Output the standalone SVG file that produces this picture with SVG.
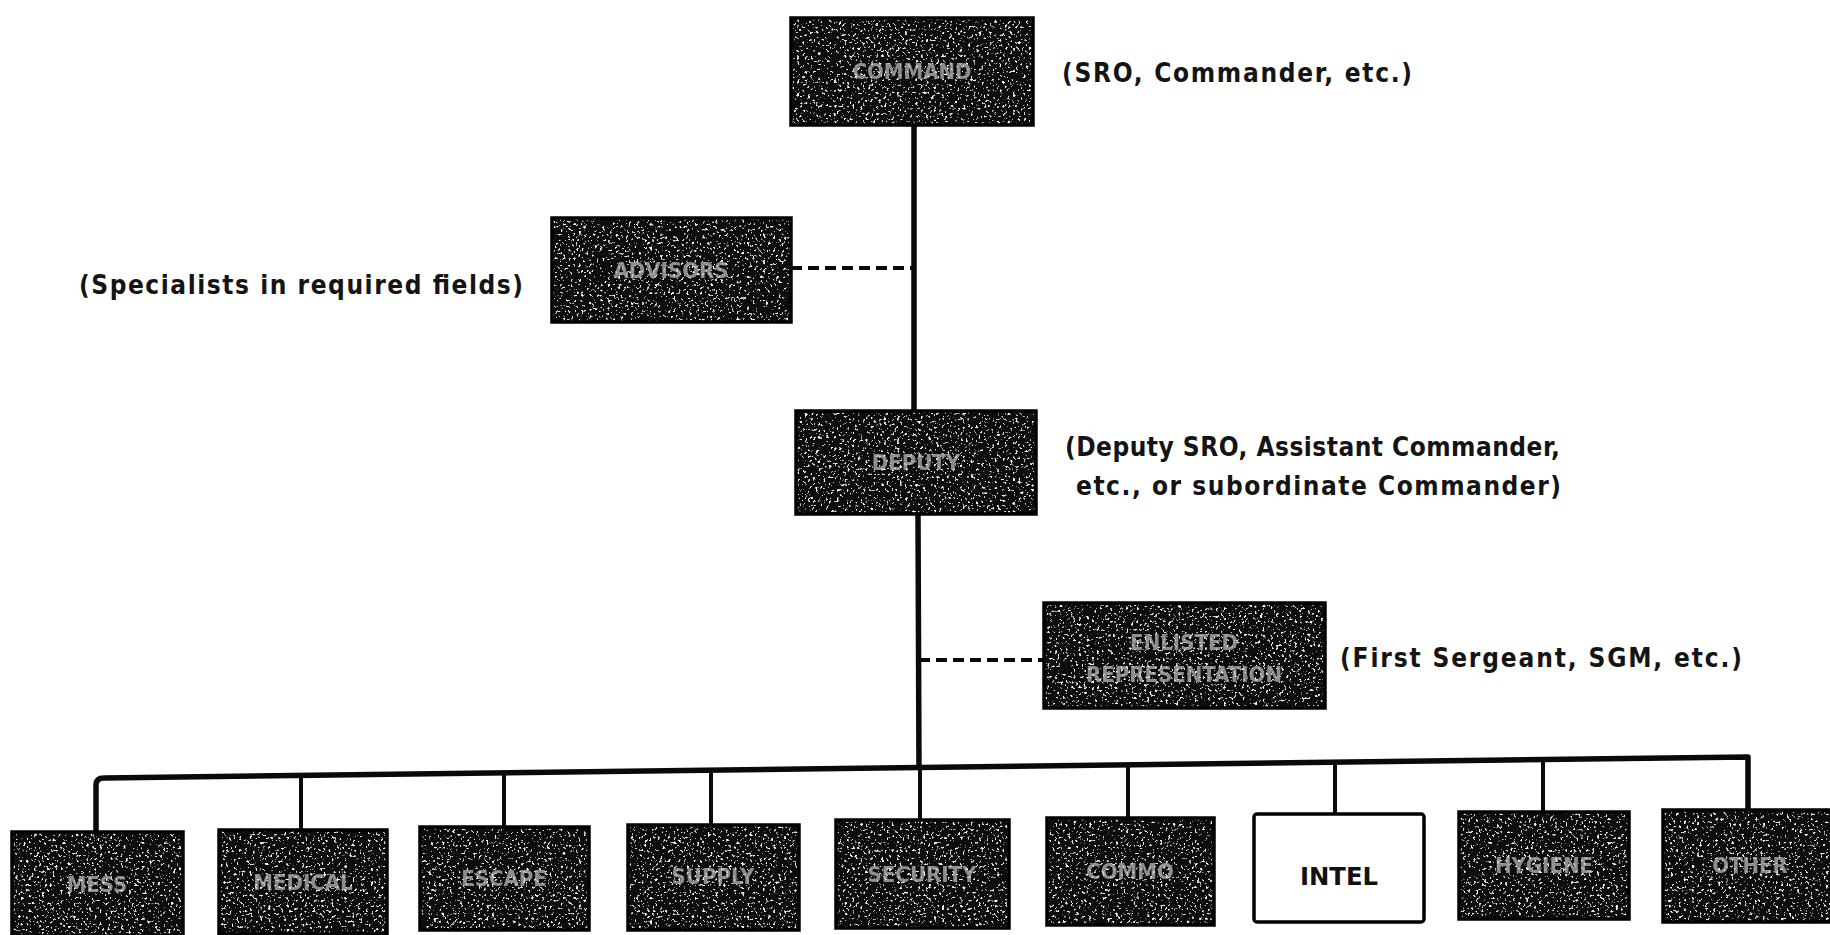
<svg xmlns="http://www.w3.org/2000/svg" width="1830" height="935" viewBox="0 0 1830 935">
<style>
.bg{fill:#ffffff}
.dark{fill:#0b0b0b}
.frame{fill:none;stroke:#000;stroke-width:3.5}
.lbl{font-family:"DejaVu Sans Condensed","DejaVu Sans",sans-serif;font-weight:bold;font-size:22px;fill:#c4c4c4;text-anchor:middle;opacity:.7}
.lblw{font-family:"DejaVu Sans Condensed","DejaVu Sans",sans-serif;font-weight:bold;font-size:25px;fill:#111;text-anchor:middle}
.note{font-family:"DejaVu Sans Condensed","DejaVu Sans",sans-serif;font-weight:bold;font-size:26px;fill:#141414}
.solid{fill:none;stroke:#0a0a0a;stroke-width:5.5;stroke-linejoin:round;stroke-linecap:butt}
.drop{fill:none;stroke:#0a0a0a;stroke-width:4}
.dash{fill:none;stroke:#0a0a0a;stroke-width:4;stroke-dasharray:11 6}
</style>
<defs>
<filter id="grain" x="0" y="0" width="1" height="1">
<feTurbulence type="fractalNoise" baseFrequency="0.38" numOctaves="2" seed="7" result="noise"/>
<feColorMatrix in="noise" type="matrix" values="0 0 0 0 0.9  0 0 0 0 0.9  0 0 0 0 0.9  10 0 0 0 -6.2" result="specks"/>
<feComposite in="specks" in2="SourceGraphic" operator="in" result="clip"/>
<feMerge><feMergeNode in="SourceGraphic"/><feMergeNode in="clip"/></feMerge>
</filter>
</defs>
<rect class="bg" x="0" y="0" width="1830" height="935"/>

<g id="connectors">
<line class="solid" x1="914" y1="125" x2="914" y2="411"/>
<line class="solid" x1="918" y1="514" x2="919" y2="768"/>
<path class="solid" d="M96,832 L96,785 Q96,778 104,778 L1748,757 L1748,810"/>
<line class="dash" x1="791" y1="268" x2="914" y2="268"/>
<line class="dash" x1="919" y1="660" x2="1044" y2="660"/>
<line class="drop" x1="301" y1="775" x2="301" y2="830"/>
<line class="drop" x1="504" y1="773" x2="504" y2="827"/>
<line class="drop" x1="711" y1="770" x2="711" y2="825"/>
<line class="drop" x1="920" y1="767" x2="920" y2="820"/>
<line class="drop" x1="1128" y1="765" x2="1128" y2="818"/>
<line class="drop" x1="1335" y1="762" x2="1335" y2="814"/>
<line class="drop" x1="1543" y1="760" x2="1543" y2="812"/>
</g>

<g id="command">
<rect class="dark" filter="url(#grain)" x="791" y="18" width="242" height="107"/>
<rect class="frame" x="791" y="18" width="242" height="107"/>
<text class="lbl" x="912" y="79">COMMAND</text>
</g>
<text class="note" x="1062" y="82" textLength="350">(SRO, Commander, etc.)</text>

<g id="advisors">
<rect class="dark" filter="url(#grain)" x="552" y="218" width="239" height="104"/>
<rect class="frame" x="552" y="218" width="239" height="104"/>
<text class="lbl" x="671" y="278">ADVISORS</text>
</g>
<text class="note" x="79" y="294" textLength="444">(Specialists in required fields)</text>

<g id="deputy">
<rect class="dark" filter="url(#grain)" x="796" y="411" width="240" height="103"/>
<rect class="frame" x="796" y="411" width="240" height="103"/>
<text class="lbl" x="916" y="470">DEPUTY</text>
</g>
<text class="note" x="1065" y="456" textLength="495">(Deputy SRO, Assistant Commander,</text>
<text class="note" x="1076" y="495" textLength="485">etc., or subordinate Commander)</text>

<g id="enlisted">
<rect class="dark" filter="url(#grain)" x="1044" y="603" width="281" height="105"/>
<rect class="frame" x="1044" y="603" width="281" height="105"/>
<text class="lbl" x="1184" y="650">ENLISTED</text>
<text class="lbl" x="1184" y="682">REPRESENTATION</text>
</g>
<text class="note" x="1340" y="667" textLength="402">(First Sergeant, SGM, etc.)</text>

<g id="mess">
<rect class="dark" filter="url(#grain)" x="12" y="832" width="171" height="104"/>
<rect class="frame" x="12" y="832" width="171" height="104"/>
<text class="lbl" x="97" y="892">MESS</text>
</g>
<g id="medical">
<rect class="dark" filter="url(#grain)" x="219" y="830" width="168" height="104"/>
<rect class="frame" x="219" y="830" width="168" height="104"/>
<text class="lbl" x="303" y="890">MEDICAL</text>
</g>
<g id="escape">
<rect class="dark" filter="url(#grain)" x="420" y="827" width="169" height="103"/>
<rect class="frame" x="420" y="827" width="169" height="103"/>
<text class="lbl" x="504" y="886">ESCAPE</text>
</g>
<g id="supply">
<rect class="dark" filter="url(#grain)" x="628" y="825" width="171" height="105"/>
<rect class="frame" x="628" y="825" width="171" height="105"/>
<text class="lbl" x="713" y="884">SUPPLY</text>
</g>
<g id="security">
<rect class="dark" filter="url(#grain)" x="836" y="820" width="173" height="108"/>
<rect class="frame" x="836" y="820" width="173" height="108"/>
<text class="lbl" x="922" y="882">SECURITY</text>
</g>
<g id="commo">
<rect class="dark" filter="url(#grain)" x="1047" y="818" width="167" height="107"/>
<rect class="frame" x="1047" y="818" width="167" height="107"/>
<text class="lbl" x="1130" y="879">COMMO</text>
</g>
<g id="intel">
<rect x="1254" y="814" width="170" height="108" fill="#fff" stroke="#000" stroke-width="3.5" rx="3"/>
<text class="lblw" x="1339" y="885" textLength="78" lengthAdjust="spacingAndGlyphs">INTEL</text>
</g>
<g id="hygiene">
<rect class="dark" filter="url(#grain)" x="1459" y="812" width="170" height="107"/>
<rect class="frame" x="1459" y="812" width="170" height="107"/>
<text class="lbl" x="1544" y="873">HYGIENE</text>
</g>
<g id="other">
<rect class="dark" filter="url(#grain)" x="1663" y="810" width="180" height="112"/>
<rect class="frame" x="1663" y="810" width="180" height="112"/>
<text class="lbl" x="1750" y="873">OTHER</text>
</g>
</svg>
